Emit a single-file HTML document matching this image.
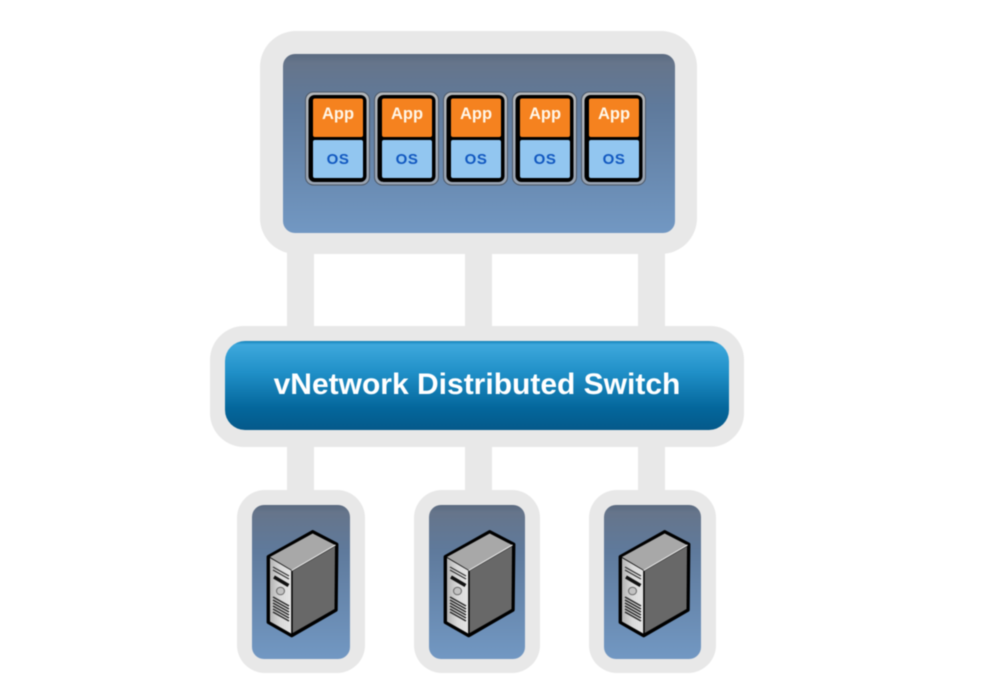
<!DOCTYPE html>
<html>
<head>
<meta charset="utf-8">
<style>
html,body{margin:0;padding:0;background:#fff;width:999px;height:697px;overflow:hidden}
svg{display:block;filter:blur(0.45px)}
text{font-family:"Liberation Sans",sans-serif;font-weight:bold;text-anchor:middle}
</style>
</head>
<body>
<svg width="999" height="697" viewBox="0 0 999 697" xmlns="http://www.w3.org/2000/svg">
<defs>
<linearGradient id="panel" x1="0" y1="0" x2="0" y2="1">
<stop offset="0" stop-color="#5a6a80"/>
<stop offset="0.05" stop-color="#66758b"/>
<stop offset="0.3" stop-color="#5f7a9c"/>
<stop offset="1" stop-color="#7298c3"/>
</linearGradient>
<linearGradient id="sw" x1="0" y1="0" x2="0" y2="1">
<stop offset="0" stop-color="#1180b8"/>
<stop offset="0.04" stop-color="#3ea8dc"/>
<stop offset="0.35" stop-color="#2090c8"/>
<stop offset="0.75" stop-color="#04679c"/>
<stop offset="1" stop-color="#05598a"/>
</linearGradient>
<linearGradient id="ring" x1="0" y1="0" x2="0" y2="1">
<stop offset="0" stop-color="#b4b7ba"/>
<stop offset="1" stop-color="#98a3b2"/>
</linearGradient>
<linearGradient id="front" x1="0" y1="0" x2="1" y2="0">
<stop offset="0" stop-color="#b4b4b4"/>
<stop offset="0.5" stop-color="#dadada"/>
<stop offset="1" stop-color="#e4e4e4"/>
</linearGradient>
<g id="vm">
<rect x="-32.5" y="0" width="64" height="93" rx="8" fill="url(#ring)" stroke="#4d5867" stroke-width="1"/>
<rect x="-29.5" y="3" width="58" height="87" rx="6" fill="#000"/>
<rect x="-25" y="6.5" width="50" height="38.5" rx="2" fill="#f5821f"/>
<rect x="-25" y="48" width="50" height="38" rx="2" fill="#92c6f0"/>
<text x="0" y="27" font-size="16.5" fill="#fff6e8">App</text>
<text x="0" y="72" font-size="15" fill="#1158c0" letter-spacing="0.6">OS</text>
</g>
<g id="server">
<path d="M268.3 556.7 L312.7 531.7 L336.7 544.3 L336 610 L291.7 635.7 L268.3 622.3 Z" fill="#000" stroke="#000" stroke-width="3.4" stroke-linejoin="round"/>
<path d="M270 557 L312.7 533.5 L335 545 L291.7 570 Z" fill="#a8a8a8"/>
<path d="M292.7 571 L335 546.5 L334.5 609 L292.7 633 Z" fill="#686868"/>
<path d="M270 558 L291.2 570.5 L291.2 633.5 L270 621.5 Z" fill="url(#front)"/>
<path d="M291.7 570.5 L335.5 545" stroke="#e6e6e6" stroke-width="1.2" fill="none"/>
<path d="M273 567 L289 576 M273 570 L289 579" stroke="#333" stroke-width="1.2" fill="none"/>
<path d="M274 577 L288.5 585.5" stroke="#111" stroke-width="3.5" fill="none"/>
<ellipse cx="280.5" cy="591" rx="4" ry="3.8" fill="#c2c2c2" stroke="#666" stroke-width="1"/>
<path d="M273 597 L289 606 M273 600 L289 609 M273 603 L289 612 M273 606 L289 615 M273 609 L289 618 M273 612 L289 621" stroke="#2c2c2c" stroke-width="1.5" fill="none"/>
</g>
</defs>

<rect width="999" height="697" fill="#fff"/>

<!-- connectors -->
<g fill="#e8e8e8">
<rect x="287" y="250" width="27" height="80"/>
<rect x="465" y="250" width="27" height="80"/>
<rect x="638" y="250" width="27" height="80"/>
<rect x="287" y="443" width="27" height="50"/>
<rect x="465" y="443" width="27" height="50"/>
<rect x="638" y="443" width="27" height="50"/>
<rect x="260" y="31" width="437" height="223" rx="36"/>
<rect x="210" y="326" width="534" height="121" rx="34"/>
<rect x="237" y="490" width="128" height="183" rx="28"/>
<rect x="414" y="490" width="126" height="183" rx="28"/>
<rect x="589" y="490" width="127" height="183" rx="28"/>
</g>

<!-- hypervisor panel -->
<rect x="283" y="54" width="392" height="179" rx="12" fill="url(#panel)"/>
<use href="#vm" x="338" y="92"/>
<use href="#vm" x="407" y="92"/>
<use href="#vm" x="476" y="92"/>
<use href="#vm" x="545" y="92"/>
<use href="#vm" x="614" y="92"/>

<!-- switch -->
<rect x="225" y="341" width="504" height="89" rx="20" fill="url(#sw)"/>
<text x="477" y="394" font-size="30" fill="#fff">vNetwork Distributed Switch</text>

<!-- hosts -->
<rect x="252" y="505" width="98" height="154" rx="12" fill="url(#panel)"/>
<rect x="429" y="505" width="96" height="154" rx="12" fill="url(#panel)"/>
<rect x="604" y="505" width="97" height="154" rx="12" fill="url(#panel)"/>
<use href="#server" x="0" y="0"/>
<use href="#server" x="177" y="0"/>
<use href="#server" x="352" y="0"/>
</svg>
</body>
</html>
